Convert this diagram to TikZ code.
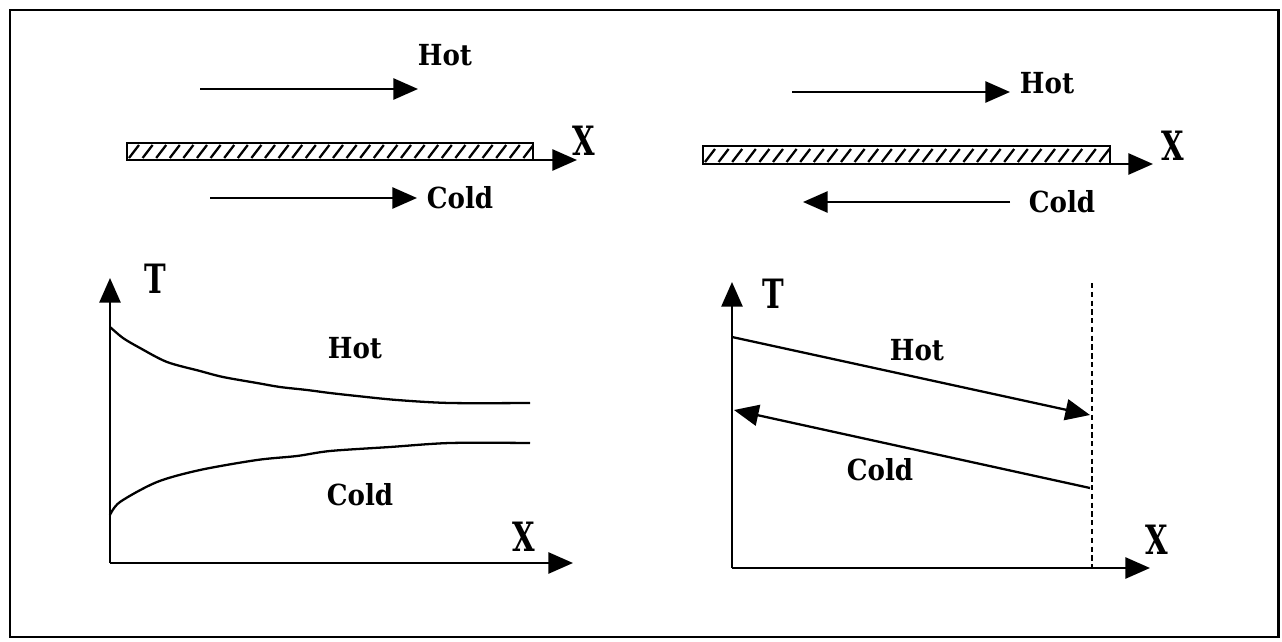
\documentclass[tikz,border=0pt]{standalone}
\usepackage{fontspec}
\setmainfont{DejaVu Serif Condensed}
\newfontfamily\axfont[FakeStretch=0.8]{DejaVu Serif Condensed}
\usetikzlibrary{arrows.meta}

\begin{document}
\begin{tikzpicture}[x=0.02cm,y=-0.02cm,line width=1.3pt,
  flow/.style={-{Triangle[length=14pt,width=12pt]}},
  lbl/.style={font=\bfseries\fontsize{16.5}{16.5}\selectfont,inner sep=0pt},
  axlbl/.style={font=\axfont\bfseries\fontsize{23}{23}\selectfont,inner sep=0pt}]
  \useasboundingbox (0,0) rectangle (1282,642);
  \draw[line width=1.7pt] (10,10) rectangle (1278,637);

  % parallel flow, wall
  \draw[flow] (200,89) -- (418,89);
  \node[lbl] (hotA) at (445,55) {Hot};
  \draw (127,143) rectangle (533,160);
  \begin{scope}
    \clip (127,143) rectangle (533,160);
    \foreach \i in {0,...,30} \draw[line width=1.3pt] ({129+13.6*\i},158) -- ++(10,-13);
  \end{scope}
  \draw[flow] (533,160) -- (577,160);
  \node[axlbl] (xA) at (584,141) {X};
  \draw[flow] (210,198) -- (417,198);
  \node[lbl] (coldA) at (460,198) {Cold};

  % counter flow, wall
  \draw[flow] (792,92) -- (1010,92);
  \node[lbl] (hotB) at (1047,83) {Hot};
  \draw (703,146) rectangle (1110,164);
  \begin{scope}
    \clip (703,146) rectangle (1110,164);
    \foreach \i in {0,...,30} \draw[line width=1.3pt] ({705+13.6*\i},162) -- ++(10,-13);
  \end{scope}
  \draw[flow] (1110,164) -- (1153,164);
  \node[axlbl] (xB) at (1173,146) {X};
  \draw[flow] (1010,202) -- (803,202);
  \node[lbl] (coldB) at (1062,202) {Cold};

  % parallel flow, temperatures
  \coordinate (oA) at (110,563);
  \draw[flow] (oA) -- (110,278);
  \draw[flow] (oA) -- (573,563);
  \node[axlbl] (tA) at (155,279) {T};
  \node[axlbl] (xC) at (524,537) {X};
  \draw plot[smooth] coordinates {(110,327) (123,338) (140,348) (167,362) (200,371)
    (223,377) (257,383) (280,387) (307,390) (330,393) (357,396) (397,400) (450,403) (530,403)};
  \draw plot[smooth] coordinates {(110,515) (120,502) (157,482) (200,470) (257,460)
    (297,456) (330,451) (390,447) (450,443) (530,443)};
  \node[lbl] (hotC) at (355,348) {Hot};
  \node[lbl] (coldC) at (360,495) {Cold};

  % counter flow, temperatures
  \coordinate (oB) at (732,568);
  \draw[flow] (oB) -- (732,282);
  \draw[flow] (oB) -- (1150,568);
  \node[axlbl] (tB) at (773,294) {T};
  \node[axlbl] (xD) at (1157,540) {X};
  \draw[line width=1pt,dash pattern=on 3pt off 2pt] (1092,283) -- (1092,568);
  \draw[flow] (732,337) -- (1090,415);
  \draw[flow] (1090,488) -- (734,410);
  \node[lbl] (hotD) at (917,350) {Hot};
  \node[lbl] (coldD) at (880,470) {Cold};
\end{tikzpicture}
\end{document}
